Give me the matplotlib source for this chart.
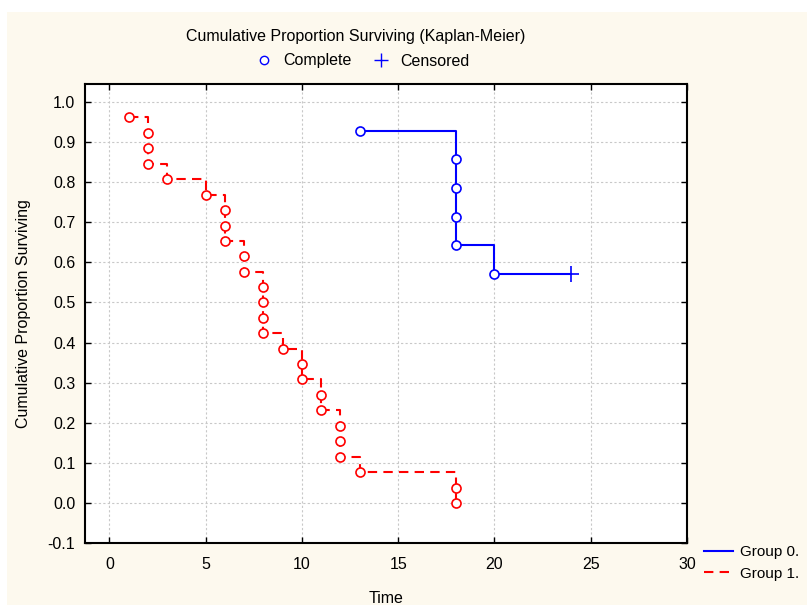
import matplotlib
matplotlib.use("Agg")
import matplotlib.pyplot as plt
from matplotlib.patches import Rectangle
from matplotlib.lines import Line2D

plt.rcParams['font.family'] = ['Liberation Sans', 'DejaVu Sans']

# Group 0: event times / survival, plus censored point
g0_time = [13, 18, 18, 18, 18, 20]
g0_surv = [0.929, 0.857, 0.786, 0.714, 0.643, 0.571]
g0_cens_time = [24]
g0_cens_surv = [0.571]

# Group 1
g1_time = [1, 2, 2, 2, 3, 5, 6, 6, 6, 7, 7, 8, 8, 8, 8, 9, 10, 10, 11, 11,
           12, 12, 12, 13, 18, 18]
g1_surv = [0.962, 0.923, 0.885, 0.846, 0.808, 0.769, 0.731, 0.692, 0.654,
           0.615, 0.577, 0.538, 0.500, 0.462, 0.423, 0.385, 0.346, 0.308,
           0.269, 0.231, 0.192, 0.154, 0.115, 0.077, 0.038, 0.000]

xticks = [0, 5, 10, 15, 20, 25, 30]
yticks = [-0.1, 0.0, 0.1, 0.2, 0.3, 0.4, 0.5, 0.6, 0.7, 0.8, 0.9, 1.0]

W, H = 807, 607
fs = 11.5
fig = plt.figure(figsize=(W / 100, H / 100), dpi=100, facecolor='white')
fig.patches.append(Rectangle((7 / W, 2 / H), 1, (H - 14) / H, transform=fig.transFigure,
                             facecolor='#fdf9ee', edgecolor='none', zorder=-10))

ax = fig.add_axes([85 / W, 1 - 543 / H, (687 - 85) / W, (543 - 84) / H])
ax.set_facecolor('white')

blue = '#0000ff'
red = '#ff0000'

# group 0 line from first event to censored time
ax.step(g0_time + g0_cens_time, g0_surv + g0_cens_surv, where='post',
        color=blue, lw=1.5, zorder=3)
ax.plot(g0_time, g0_surv, 'o', ms=6.5, mfc='white', mec=blue, mew=1.2, zorder=4)
ax.plot(g0_cens_time, g0_cens_surv, '+', ms=12, mec=blue, mew=1.2, zorder=4)

ax.step(g1_time, g1_surv, where='post', color=red, lw=1.5,
        dashes=(4.5, 3), zorder=3)
ax.plot(g1_time, g1_surv, 'o', ms=6.5, mfc='white', mec=red, mew=1.2, zorder=4)

ax.set_xlim(-1.27, 30)
ax.set_ylim(-0.1, 1.045)
ax.set_xticks(xticks)
ax.set_yticks(yticks)
ax.set_yticklabels(['%.1f' % v for v in yticks])
ax.grid(True, color='#c8c8c8', ls=(0, (2, 2)), lw=0.8)
ax.tick_params(direction='in', top=True, right=True, length=4, labelsize=fs,
               width=1)
ax.tick_params(axis='x', pad=10)
ax.tick_params(axis='y', pad=7)
for s in ax.spines.values():
    s.set_linewidth(1.5)

ax.set_xlabel('Time', fontsize=fs, labelpad=14)
ax.set_ylabel('Cumulative Proportion Surviving', fontsize=fs, labelpad=12)

fig.text(356 / W, 1 - 36 / H, 'Cumulative Proportion Surviving (Kaplan-Meier)',
         ha='center', va='center', fontsize=fs)

# top marker legend
fig.legend(handles=[
    Line2D([], [], ls='none', marker='o', ms=6, mfc='white', mec=blue, mew=1),
    Line2D([], [], ls='none', marker='+', ms=10, mec=blue, mew=1)],
    labels=['Complete', 'Censored'], ncol=2, frameon=False, fontsize=fs,
    loc='center', bbox_to_anchor=(362 / W, 1 - 61 / H), handletextpad=0.65,
    columnspacing=1.2, handlelength=1.2)

# bottom-right group legend
fig.legend(handles=[
    Line2D([], [], color=blue, lw=1.5),
    Line2D([], [], color=red, lw=1.5, dashes=(4.5, 3))],
    labels=['Group 0.', 'Group 1.'], frameon=False, fontsize=11,
    loc='center left', bbox_to_anchor=(690 / W, 1 - 563 / H),
    handlelength=1.9, handletextpad=0.5, labelspacing=0.5)

fig.savefig('out.png', dpi=100, facecolor=fig.get_facecolor())
